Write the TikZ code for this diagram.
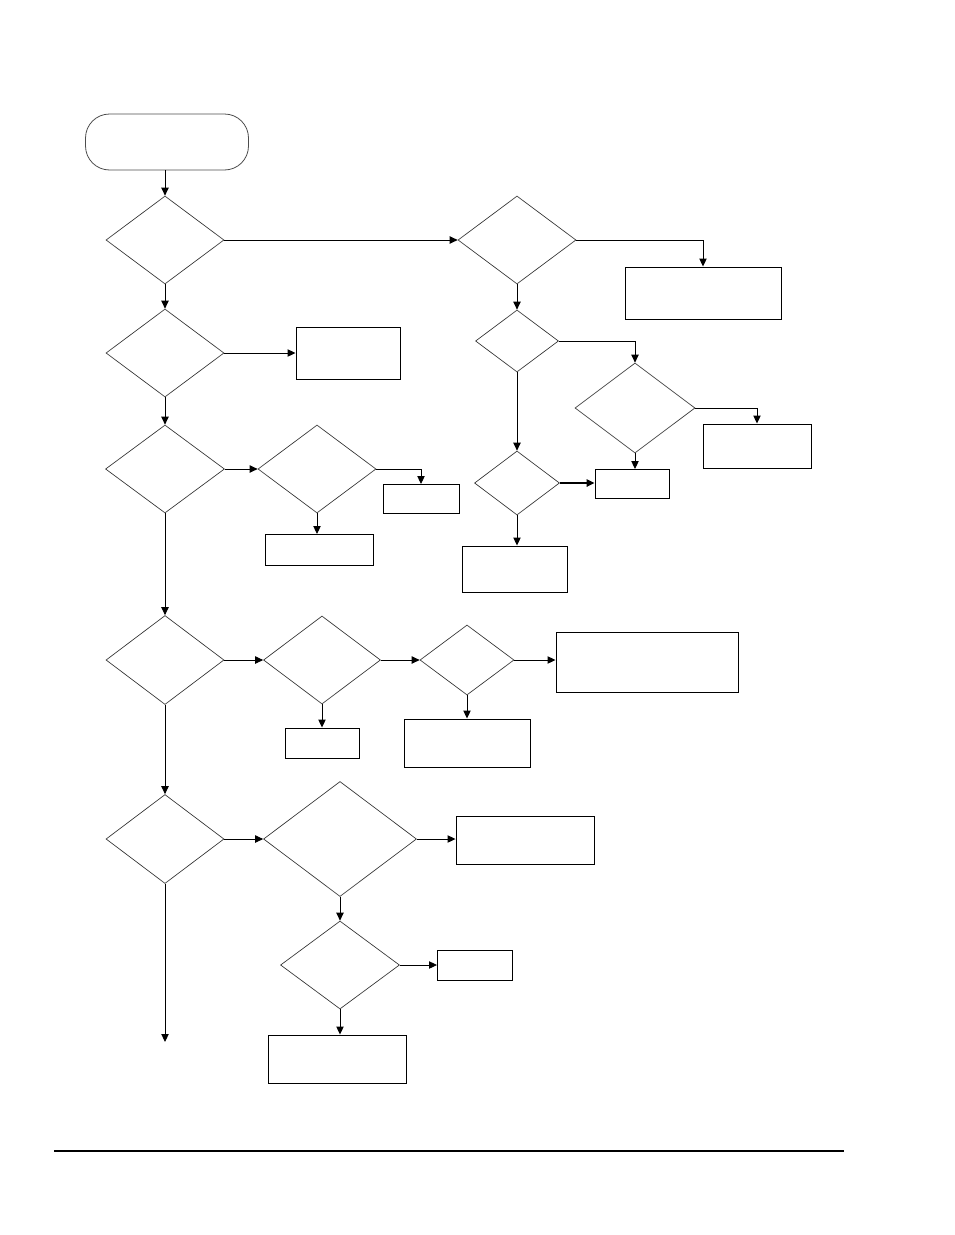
\documentclass[tikz,border=0pt]{standalone}
\usetikzlibrary{shapes.geometric,arrows.meta}
\begin{document}
\begin{tikzpicture}[x=0.75pt,y=-0.75pt,
        dec/.style 2 args={diamond, draw=black!80, line width=0.5pt, inner sep=0pt,
            minimum width=#1*0.75pt, minimum height=#2*0.75pt},
        res/.style 2 args={rectangle, draw, line width=0.7pt, inner sep=0pt,
            minimum width=#1*0.75pt, minimum height=#2*0.75pt},
        arr/.style={-{Triangle[length=6pt,width=5.5pt]}, line width=0.7pt}]
        \useasboundingbox (0,0) rectangle (954,1235);

        % Start
        \node[draw=black!70, line width=0.6pt, rounded corners=18pt, minimum width=163*0.75pt, minimum height=56*0.75pt] (start) at (167,142) {};

        % Left column of decisions
        \node[dec={118}{88}] (q1) at (165,240) {};
        \node[dec={118}{88}] (q2) at (165,353) {};
        \node[dec={119}{88}] (q3) at (165,469) {};
        \node[dec={118}{88}] (q4) at (317,469) {};
        \node[dec={118}{89}] (q5) at (165,660) {};
        \node[dec={117}{88}] (q6) at (322,660) {};
        \node[dec={94}{70}] (q7) at (467,660) {};
        \node[dec={118}{89}] (q8) at (165,839) {};
        \node[dec={153}{115}] (q9) at (340,839) {};
        \node[dec={119}{88}] (q10) at (340,965) {};

        % Right branch of decisions
        \node[dec={118}{88}] (p1) at (517,240) {};
        \node[dec={83}{62}] (p2) at (517,341) {};
        \node[dec={120}{90}] (p3) at (635,408) {};
        \node[dec={85}{64}] (p4) at (517,483) {};

        % Results
        \node[res={104}{52}] (r1) at (348,353) {};
        \node[res={156}{52}] (r2) at (703,293) {};
        \node[res={108}{44}] (r3) at (757,446) {};
        \node[res={74}{29}] (r4) at (632,484) {};
        \node[res={105}{46}] (r5) at (515,569) {};
        \node[res={76}{29}] (r6) at (421,499) {};
        \node[res={108}{31}] (r7) at (319,550) {};
        \node[res={182}{60}] (r8) at (647,662) {};
        \node[res={74}{30}] (r9) at (322,743) {};
        \node[res={126}{48}] (r10) at (467,743) {};
        \node[res={138}{48}] (r11) at (525,840) {};
        \node[res={75}{30}] (r12) at (475,965) {};
        \node[res={138}{48}] (r13) at (337,1059) {};
        \coordinate (out) at (165,1042);

        % Main line
        \draw[arr] (start.south -| q1.north) -- (q1.north);
        \draw[arr] (q1) -- (q2);
        \draw[arr] (q2) -- (q3);
        \draw[arr] (q3) -- (q5);
        \draw[arr] (q5) -- (q8);
        \draw[arr] (q8) -- (out);

        % Branches to the right
        \draw[arr] (q1.east) -- (p1.west);
        \draw[arr] (q2.east) -- (r1.west);
        \draw[arr] (q3.east) -- (q4.west);
        \draw[arr] (q4.east) -| (r6.north);
        \draw[arr] (q4.south) -- (q4.south |- r7.north);
        \draw[arr] (q5.east) -- (q6.west);
        \draw[arr] (q6.east) -- (q7.west);
        \draw[arr] (q7.east) -- (q7.east -| r8.west);
        \draw[arr] (q6.south) -- (q6.south |- r9.north);
        \draw[arr] (q7.south) -- (q7.south |- r10.north);
        \draw[arr] (q8.east) -- (q9.west);
        \draw[arr] (q9.east) -- (q9.east -| r11.west);
        \draw[arr] (q9.south) -- (q10.north);
        \draw[arr] (q10.east) -- (q10.east -| r12.west);
        \draw[arr] (q10.south) -- (q10.south |- r13.north);

        % Right branch
        \draw[arr] (p1.east) -| (r2.north);
        \draw[arr] (p1.south) -- (p2.north);
        \draw[arr] (p2.east) -| (p3.north);
        \draw[arr] (p3.east) -| (r3.north);
        \draw[arr] (p3.south) -- (p3.south |- r4.north);
        \draw[arr] (p2.south) -- (p4.north);
        \draw[arr, line width=1.6pt] (p4.east) -- (p4.east -| r4.west);
        \draw[arr] (p4.south) -- (p4.south |- r5.north);

        % Footer rule
        \draw[line width=1pt] (54,1151) -- (844,1151);
    \end{tikzpicture}
\end{document}
